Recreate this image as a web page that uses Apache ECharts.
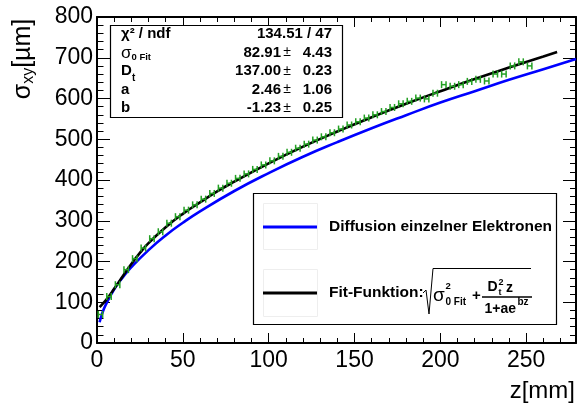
<!DOCTYPE html>
<html>
<head>
<meta charset="utf-8">
<script src="https://cdn.jsdelivr.net/npm/echarts@6/dist/echarts.min.js"></script>
<style>
html,body{margin:0;padding:0;background:#fff;}
#c{width:579px;height:403px;}
</style>
</head>
<body>
<div id="c"></div>
<script>
// ---- data ----
const measZ = [2,7,12,17,22,27,32,37,42,47,52,57,62,67,72,77,82,87,92,97,102,107,112,117,122,127,132,137,142,147,152,157,162,167,172,177,182,187,192,197,202,207,212,217,222,227,232,237,242,247,252];
const measSigma = [70,114,143,180,207,233,256,273,294,310,326,339,353,367,380,392,404,415,426,437,447,458,468,478,488,498,506,516,525,535,543,552,560,568,578,587,593,601,599,613,634,630,634,642,647,643,660,660,680,690,680];
const measZErr = 1.3;

const fitZ = [1.5,3,5,10,15,20,25,30,40,50,60,70,80,100,120,140,160,180,200,220,240,260,268];
const fitSigma = [88,95,104,133,164,194,221,245,284,317,345,372,396,441,482,519,554,587,618,648,676,703,714];

const diffZ = [1.5,3,5,10,15,20,30,40,50,60,80,100,120,140,160,180,200,220,240,260,279];
const diffSigma = [51,72,93,132,161,186,228,264,295,323,373,417,457,493,527,559,590,618,646,672,697];

const xTickLabels = ['0','50','100','150','200','250'];
const yTickLabels = ['0','100','200','300','400','500','600','700','800'];

const statNames = ['χ² / ndf', 'σ', 'D', 'a', 'b'];
const statValues = ['134.51 / 47', '82.91', '137.00', '2.46', '-1.23'];
const statErrors = ['', '4.43', '0.23', '1.06', '0.25'];

const legendNames = ['Diffusion einzelner Elektronen', 'Fit-Funktion:'];

// ---- chart ----
const FONT = '"Liberation Sans", Arial, Helvetica, sans-serif';
const GREEN = '#23a023';
const chart = echarts.init(document.getElementById('c'), null, {renderer:'canvas'});

function xAxisDef(pos, interval, len, labels, line){
  return {
    type:'value', position:pos, min:0, max:279, interval:interval,
    axisLine:{show:line, onZero:false, lineStyle:{color:'#000', width:2}},
    axisTick:{show:true, inside:true, length:len, lineStyle:{color:'#000', width:1}},
    axisLabel:{show:labels, color:'#000', fontSize:23, fontFamily:FONT, margin:6,
      formatter:(v)=>{const s=String(v);return xTickLabels.indexOf(s)>=0?s:'';}},
    splitLine:{show:false}
  };
}
function yAxisDef(pos, interval, len, labels, line){
  return {
    type:'value', position:pos, min:0, max:800, interval:interval,
    axisLine:{show:line, onZero:false, lineStyle:{color:'#000', width:2}},
    axisTick:{show:true, inside:true, length:len, lineStyle:{color:'#000', width:1}},
    axisLabel:{show:labels, color:'#000', fontSize:23, fontFamily:FONT, margin:4,
      formatter:(v)=>{const s=String(v);return yTickLabels.indexOf(s)>=0?s:'';}},
    splitLine:{show:false}
  };
}

const g = [];
function txt(x,y,text,size,opts){
  opts = opts||{};
  g.push({type:'text', z:100, x:x, y:y, rotation:opts.rotation||0,
    style:{text:text, fill:'#000', font:(opts.weight||'bold')+' '+size+'px '+FONT,
      textAlign:opts.align||'left', textVerticalAlign:'middle'}});
}
function line(x1,y1,x2,y2,w,c){
  g.push({type:'line', z:100, shape:{x1:x1,y1:y1,x2:x2,y2:y2}, style:{stroke:c||'#000', lineWidth:w||1}});
}
function rect(x,y,w,h,stroke,lw){
  g.push({type:'rect', z:99, shape:{x:x,y:y,width:w,height:h}, style:{fill:'#fff', stroke:stroke, lineWidth:lw}});
}

// stats box
rect(110.5,25.5,232,92,'#000',1.2);
const rowsY = [34,52.5,71,89.5,108];
txt(121,rowsY[0],statNames[0],15);
txt(332,rowsY[0],statValues[0],15,{align:'right'});
txt(121,rowsY[1]+1,statNames[1],17,{weight:'normal'});
txt(131.5,rowsY[1]+5,'0 Fit',9.5);
txt(121,rowsY[2],statNames[2],15);
txt(132,rowsY[2]+7,'t',10);
txt(121,rowsY[3],statNames[3],15);
txt(121,rowsY[4],statNames[4],15);
for(let i=1;i<5;i++){
  txt(281,rowsY[i],statValues[i],15,{align:'right'});
  txt(287,rowsY[i],'±',14,{align:'center',weight:'normal'});
  txt(332,rowsY[i],statErrors[i],15,{align:'right'});
}

// legend box
rect(253.5,193.5,303,131,'#000',1.2);
g.push({type:'rect', z:100, shape:{x:263.5,y:203.5,width:54,height:46}, style:{fill:'none', stroke:'#eeeeee', lineWidth:1}});
g.push({type:'rect', z:100, shape:{x:263.5,y:269.5,width:54,height:47}, style:{fill:'none', stroke:'#eeeeee', lineWidth:1}});
line(263,227,317,227,3,'#0000ff');
line(263,293,317,293,3,'#000');
txt(329,227,legendNames[0],15.5);
txt(329,293,legendNames[1],15.5);
// formula
g.push({type:'polyline', z:100, shape:{points:[[423,293],[426,290],[429,314],[433,268.5],[531,268.5]]}, style:{stroke:'#000', fill:'none', lineWidth:1}});
txt(433,296,'σ',19,{weight:'normal'});
txt(445.5,286,'2',9.5);
txt(445.5,302.5,'0 Fit',10);
txt(476.5,296,'+',15,{align:'center'});
line(482,297,532,297,1.5);
txt(487.5,287.5,'D',14);
txt(498.5,282.5,'2',9);
txt(498.5,292.5,'t',9);
txt(506,288,'z',14);
txt(484.5,309.5,'1+ae',14);
txt(517.5,302,'bz',10);

// axis titles
g.push({type:'text', z:100, x:23, y:59, rotation:Math.PI/2,
  style:{text:'{m|σ}{s|xy}{m|[µm]}', fill:'#000', font:'25px '+FONT, textAlign:'center', textVerticalAlign:'middle',
    rich:{m:{fontSize:25, fontFamily:FONT, fill:'#000'}, s:{fontSize:16, fontFamily:FONT, fill:'#000', padding:[12,0,0,0]}}}});
txt(575,391,'z[mm]',24,{align:'right',weight:'normal'});

const option = {
  animation:false,
  backgroundColor:'#fff',
  grid:{left:97, right:3, top:17, bottom:60, containLabel:false},
  xAxis:[
    xAxisDef('bottom',50,10,true,true),
    xAxisDef('bottom',10,5,false,false),
    xAxisDef('top',50,10,false,true),
    xAxisDef('top',10,5,false,false)
  ],
  yAxis:[
    yAxisDef('left',100,13,true,true),
    yAxisDef('left',20,6.5,false,false),
    yAxisDef('right',100,13,false,true),
    yAxisDef('right',20,6,false,false)
  ],
  series:[
    {type:'line', xAxisIndex:0, yAxisIndex:0, data:diffZ.map((z,i)=>[z,diffSigma[i]]), smooth:true, showSymbol:false,
      lineStyle:{color:'#0000ff', width:2.6}, z:3},
    {type:'line', xAxisIndex:0, yAxisIndex:0, data:fitZ.map((z,i)=>[z,fitSigma[i]]), smooth:true, showSymbol:false,
      lineStyle:{color:'#000', width:2.6}, z:4},
    {type:'custom', xAxisIndex:0, yAxisIndex:0, z:5,
      data:measZ.map((z,i)=>[z,measSigma[i]]),
      renderItem:function(params, api){
        const z = api.value(0), s = api.value(1);
        const pL = api.coord([z-measZErr, s]);
        const pR = api.coord([z+measZErr, s]);
        const cap = 3.5;
        const st = {stroke:GREEN, lineWidth:1.5};
        return {type:'group', children:[
          {type:'line', shape:{x1:pL[0],y1:pL[1],x2:pR[0],y2:pR[1]}, style:st},
          {type:'line', shape:{x1:pL[0],y1:pL[1]-cap,x2:pL[0],y2:pL[1]+cap}, style:st},
          {type:'line', shape:{x1:pR[0],y1:pR[1]-cap,x2:pR[0],y2:pR[1]+cap}, style:st}
        ]};
      }}
  ],
  graphic:g
};
chart.setOption(option);
</script>
</body>
</html>
